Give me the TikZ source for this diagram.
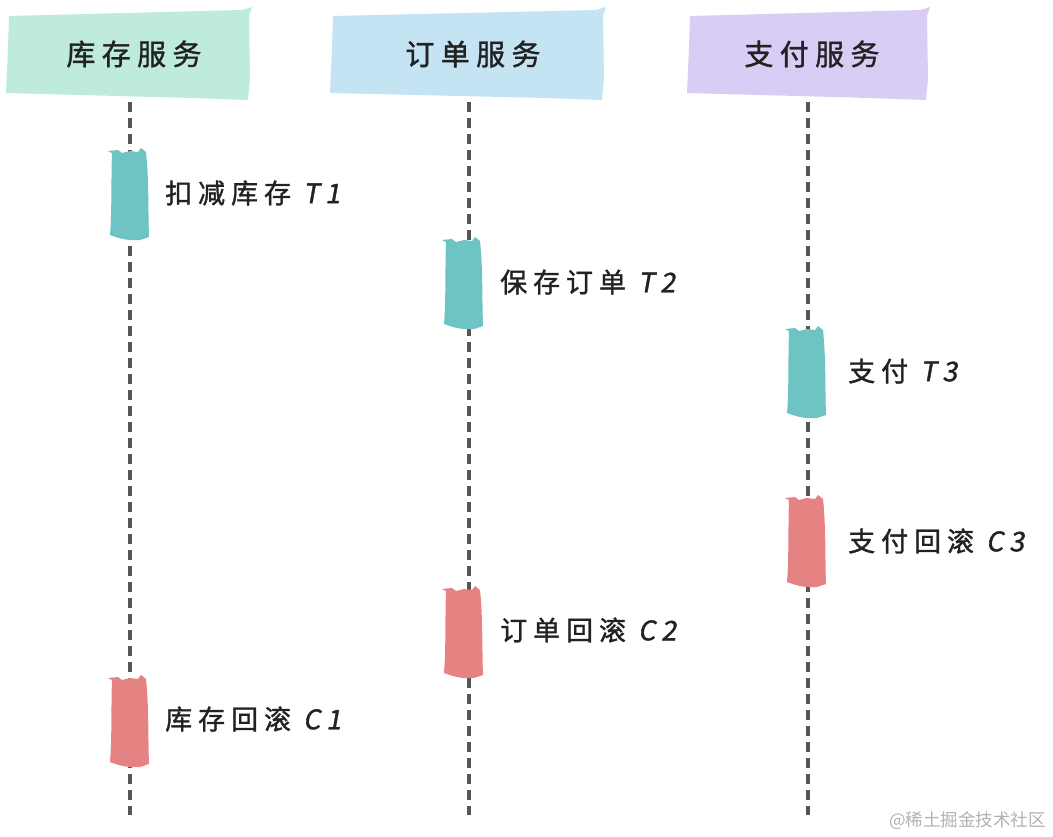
\documentclass[tikz,border=0pt]{standalone}
\usepackage{fontspec}
\setmainfont{Noto Sans CJK SC}[LetterSpace=22,FakeBold=1.3]
\newfontfamily\slfont{Noto Sans CJK SC}[LetterSpace=22,FakeBold=1.3,FakeSlant=0.18]
\newfontfamily\wmfont{Noto Sans CJK SC}
\usetikzlibrary{calc}
\definecolor{hmint}{HTML}{BFEBDF}
\definecolor{hblue}{HTML}{C4E4F4}
\definecolor{hlav}{HTML}{D9CDF5}
\definecolor{tealbar}{HTML}{6DC4C2}
\definecolor{pinkbar}{HTML}{E58383}
\definecolor{lifeg}{HTML}{555555}
\definecolor{inkc}{HTML}{222222}
\newcommand\actbar[3]{%
  \begin{scope}[shift={(#1,#2)}]
  \fill[#3] (2,3) -- (-2,1) -- (8,0) -- (12,3) -- (20,1) -- (28,2) -- (31,-2) -- (36,2)
    .. controls (39,30) and (38,60) .. (39,87) -- (30,90)
    .. controls (20,91) and (10,89) .. (0,85)
    .. controls (2,60) and (1,30) .. (2,3) -- cycle;
  \end{scope}}
\newcommand\headbox[4]{%
  \begin{scope}[shift={(#1,#2)}]
  \fill[#4] (3,8) -- (#3-10,2) -- (#3,-1) -- (#3-3,8)
    -- (#3-2,70) -- (#3-4,92) -- (#3-60,90) -- (0,85) -- (2,40) -- cycle;
  \end{scope}}
\newcommand\lt[1]{{\slfont #1}}
\begin{document}
\begin{tikzpicture}[x=1pt,y=-1pt,
  lbl/.style={inner sep=0pt,anchor=west,text=inkc,font=\fontsize{27}{30}\selectfont},
  htxt/.style={inner sep=0pt,text=inkc,font=\fontsize{29}{32}\selectfont},
  life/.style={lifeg,line width=4pt,dash pattern=on 10pt off 6pt}]
\useasboundingbox (0,0) rectangle (1053,836);
\fill[white] (0,0) rectangle (1053,836);
% headers
\headbox{6}{8}{246}{hmint}
\headbox{330}{8}{276}{hblue}
\headbox{687}{8}{243}{hlav}
\node[htxt] (h1) at (134,54) {库存服务};
\node[htxt] (h2) at (473,54) {订单服务};
\node[htxt] (h3) at (812,54) {支付服务};
% lifelines
\coordinate (s1) at (130,102); \coordinate (e1) at (130,815);
\coordinate (s2) at (469,102); \coordinate (e2) at (469,815);
\coordinate (s3) at (808,102); \coordinate (e3) at (808,815);
\draw[life] (s1) -- (e1);
\draw[life] (s2) -- (e2);
\draw[life] (s3) -- (e3);
% activation bars
\actbar{110}{150}{tealbar}
\actbar{444}{239}{tealbar}
\actbar{787}{328}{tealbar}
\actbar{787}{497}{pinkbar}
\actbar{444}{588}{pinkbar}
\actbar{110}{677}{pinkbar}
% labels
\node[lbl] (t1) at (165,193) {扣减库存 \lt{T1}};
\node[lbl] (t2) at (500,282) {保存订单 \lt{T2}};
\node[lbl] (t3) at (848,371) {支付 \lt{T3}};
\node[lbl] (c3) at (848,541) {支付回滚 \lt{C3}};
\node[lbl] (c2) at (500,630) {订单回滚 \lt{C2}};
\node[lbl] (c1) at (165,719) {库存回滚 \lt{C1}};
% watermark
\node[inner sep=0pt,anchor=east,text=black!30,font=\wmfont\fontsize{17.5}{19}\selectfont] (wm) at (1046,821) {@稀土掘金技术社区};
\end{tikzpicture}
\end{document}
